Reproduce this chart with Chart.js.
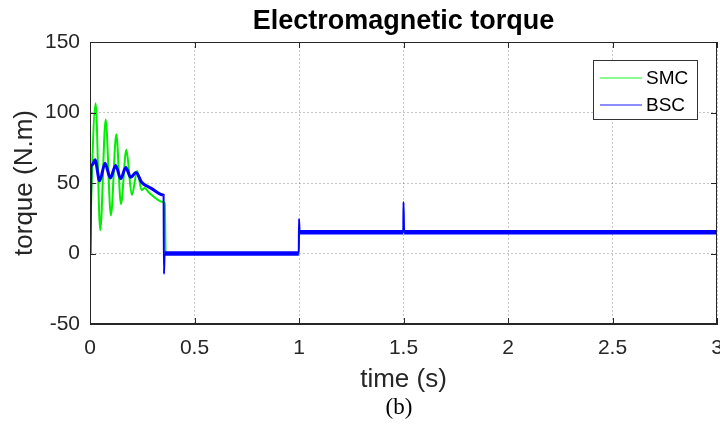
<!DOCTYPE html>
<html>
<head>
<meta charset="utf-8">
<script src="https://cdn.jsdelivr.net/npm/chart.js@4"></script>
<style>
  html, body { margin: 0; padding: 0; background: #fff; }
  canvas { display: block; }
</style>
</head>
<body>
<canvas id="torqueChart" width="720" height="427"></canvas>
<script>
// values (time in s, torque in N.m)
var smcTime   = [0, 0.006, 0.027, 0.049, 0.075, 0.1, 0.126, 0.148, 0.174, 0.2, 0.226, 0.247, 0.262, 0.28, 0.35, 0.358, 0.362, 0.999, 1.001, 1.5, 3];
var smcTorque = [0, 40, 106.5, 16.5, 95, 27, 84.5, 35, 73.5, 41.5, 58.5, 45, 46.5, 43.5, 36.5, 35.5, 0, 0, 15.5, 15.2, 15.2];

var bscTime   = [0, 0.004, 0.012, 0.024, 0.046, 0.072, 0.097, 0.123, 0.147, 0.171, 0.195, 0.22, 0.247, 0.27, 0.295, 0.35, 0.352, 0.354, 0.357, 0.999, 1.0, 1.003, 1.499, 1.5, 1.503, 3];
var bscTorque = [0, 61, 63, 66.5, 51.5, 64, 53.5, 62.5, 53, 61, 54, 57.5, 50.5, 48, 46, 41.5, 41, -14.5, 0, 0, 24.5, 15, 15, 36.5, 15, 15];

var seriesNames = ["SMC", "BSC"];
var seriesColors = ["#00ee00", "#0000ff"];

function toPoints(xs, ys) {
  return xs.map(function (x, i) { return {x: x, y: ys[i]}; });
}

var axisColor = '#262626';
var sans = '"Liberation Sans", Arial, sans-serif';

// frame, inward tick marks, legend box and the "(b)" caption
const matlabLook = {
  id: 'matlabLook',
  afterDraw(chart) {
    const c = chart.ctx, a = chart.chartArea;
    const xs = chart.scales.x, ys = chart.scales.y;
    c.save();
    c.strokeStyle = axisColor;
    c.lineWidth = 1;
    c.strokeRect(a.left + 0.5, a.top + 0.5, a.right - a.left - 1, a.bottom - a.top - 1);
    c.beginPath();
    xs.ticks.forEach(function (t) {
      var px = Math.round(xs.getPixelForValue(t.value)) + 0.5;
      c.moveTo(px, a.bottom); c.lineTo(px, a.bottom - 6);
      c.moveTo(px, a.top); c.lineTo(px, a.top + 6);
    });
    ys.ticks.forEach(function (t) {
      var py = Math.round(ys.getPixelForValue(t.value)) + 0.5;
      c.moveTo(a.left, py); c.lineTo(a.left + 6, py);
      c.moveTo(a.right, py); c.lineTo(a.right - 6, py);
    });
    c.stroke();

    // legend
    c.fillStyle = '#fff';
    c.fillRect(593, 60, 104, 59);
    c.strokeStyle = '#333';
    c.strokeRect(593.5, 60.5, 104, 59);
    c.font = '19px ' + sans;
    c.textBaseline = 'middle';
    c.textAlign = 'left';
    seriesNames.forEach(function (name, i) {
      var ly = 78 + i * 27;
      c.strokeStyle = seriesColors[i];
      c.globalAlpha = 0.6;
      c.lineWidth = 1.5;
      c.beginPath(); c.moveTo(600, ly); c.lineTo(642, ly); c.stroke();
      c.globalAlpha = 1;
      c.fillStyle = '#000';
      c.fillText(name, 646, ly + 1);
    });

    c.font = '23px "Liberation Serif", "Times New Roman", serif';
    c.textAlign = 'center';
    c.fillStyle = '#000';
    c.fillText('(b)', 399, 408);
    c.restore();
  }
};

function steep(ctx) {
  return Math.abs(ctx.p1.parsed.y - ctx.p0.parsed.y) > 5 && ctx.p0.parsed.x >= 0.35;
}

new Chart(document.getElementById('torqueChart'), {
  type: 'line',
  data: {
    datasets: [
      {
        label: seriesNames[0],
        data: toPoints(smcTime, smcTorque),
        borderColor: seriesColors[0],
        borderWidth: 2,
        cubicInterpolationMode: 'monotone',
        pointRadius: 0,
        order: 2
      },
      {
        label: seriesNames[1],
        data: toPoints(bscTime, bscTorque),
        borderColor: seriesColors[1],
        borderWidth: 3,
        cubicInterpolationMode: 'monotone',
        pointRadius: 0,
        order: 1,
        segment: {
          borderWidth: function (ctx) {
            if (steep(ctx)) return 2;
            return ctx.p0.parsed.x >= 0.356 ? 4.5 : 3;
          }
        }
      }
    ]
  },
  options: {
    responsive: false,
    animation: false,
    layout: { padding: { left: 0, right: 3, top: 0, bottom: 31.4 } },
    plugins: {
      legend: { display: false },
      tooltip: { enabled: false },
      title: {
        display: true,
        fullSize: false,
        text: 'Electromagnetic torque',
        color: '#000',
        font: { family: sans, size: 27, weight: 'bold' },
        padding: { top: 5, bottom: 4.6 }
      }
    },
    scales: {
      x: {
        type: 'linear',
        min: 0,
        max: 3,
        grid: { color: 'rgba(0,0,0,0.22)', drawTicks: false },
        border: { color: axisColor, width: 1, dash: [2, 2] },
        ticks: {
          stepSize: 0.5,
          padding: 12,
          color: axisColor,
          maxRotation: 0,
          font: { family: sans, size: 21 },
          callback: function (v) { return String(v); }
        },
        title: {
          display: true,
          text: 'time (s)',
          color: axisColor,
          padding: { top: 4, bottom: 0 },
          font: { family: sans, size: 26 }
        },
        afterFit: function (s) { s.paddingLeft = 0; s.paddingRight = 0; s.height = 71.6; }
      },
      y: {
        min: -50,
        max: 150,
        grid: { color: 'rgba(0,0,0,0.22)', drawTicks: false },
        border: { color: axisColor, width: 1, dash: [2, 2] },
        ticks: {
          stepSize: 50,
          padding: 10,
          color: axisColor,
          font: { family: sans, size: 21 }
        },
        title: {
          display: true,
          text: 'torque (N.m)',
          color: axisColor,
          padding: { top: 9, bottom: 0 },
          font: { family: sans, size: 26 }
        },
        afterFit: function (s) { s.width = 90; s.paddingTop = 0; s.paddingBottom = 0; }
      }
    }
  },
  plugins: [matlabLook]
});
</script>
</body>
</html>
